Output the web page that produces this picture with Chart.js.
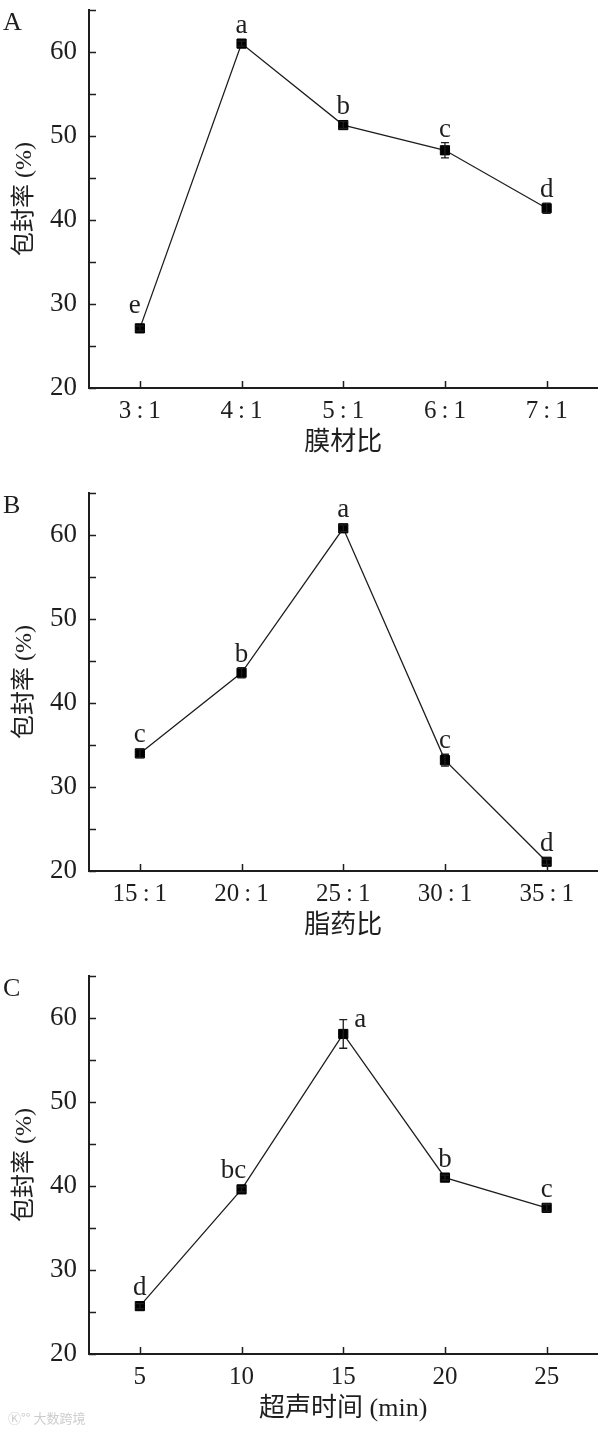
<!DOCTYPE html>
<html><head><meta charset="utf-8">
<script src="https://cdn.jsdelivr.net/npm/chart.js@4/dist/chart.umd.min.js"></script>
<style>
html,body{margin:0;padding:0;background:#fff;width:605px;height:1430px;overflow:hidden;}
.panel{position:absolute;left:0;width:605px;height:464px;}
#wm{position:absolute;left:8px;top:1408px;font:13px 'Noto Sans CJK SC',sans-serif;color:#cdcdcd;letter-spacing:0px;}
</style></head><body>
<div class="panel" style="top:0px"><canvas id="cA"></canvas></div>
<div class="panel" style="top:483px"><canvas id="cB"></canvas></div>
<div class="panel" style="top:966px"><canvas id="cC"></canvas></div>
<div id="wm">Ⓚ°° 大数跨境</div>
<script>
// ---- data ----
const catA = ['3:1', '4:1', '5:1', '6:1', '7:1'];
const valA = [27.1, 61.0, 51.3, 48.3, 41.4];
const errA = [0.3, 0.3, 0.4, 0.9, 0.6];
const letA = ['e', 'a', 'b', 'c', 'd'];

const catB = ['15:1', '20:1', '25:1', '30:1', '35:1'];
const valB = [34.0, 43.6, 60.8, 33.2, 21.1];
const errB = [0.5, 0.6, 0.4, 0.7, 0.3];
const letB = ['c', 'b', 'a', 'c', 'd'];

const catC = ['5', '10', '15', '20', '25'];
const valC = [25.7, 39.6, 58.1, 41.0, 37.4];
const errC = [0.3, 0.3, 1.7, 0.3, 0.4];
const letC = ['d', 'bc', 'a', 'b', 'c'];

const yTicksMin = 20, yTicksMax = 65, yStep = 5, yLabelEvery = 10;
const yTitle = '包封率 (%)';
const xTitles = ['膜材比', '脂药比', '超声时间 (min)'];
const panelLetters = ['A', 'B', 'C'];

// ---- style ----
const SERIF = "'Liberation Serif', 'Times New Roman', serif";
const MIX = "'Liberation Serif', 'Noto Sans CJK SC', serif";
const INK = '#1e1e1e';

const decoPlugin = {
  id: 'deco',
  afterDatasetsDraw(chart, args, opts) {
    const ctx = chart.ctx;
    const ys = chart.scales.y;
    const ds = chart.data.datasets[0];
    const meta = chart.getDatasetMeta(0);
    ctx.save();
    ctx.strokeStyle = INK;
    ctx.lineWidth = 1.3;
    ds.data.forEach((v, i) => {
      const px = meta.data[i].x;
      const e = ds.errors[i];
      const yt = ys.getPixelForValue(v + e), yb = ys.getPixelForValue(v - e);
      ctx.beginPath();
      ctx.moveTo(px, yt); ctx.lineTo(px, yb);
      ctx.moveTo(px - 4, yt); ctx.lineTo(px + 4, yt);
      ctx.moveTo(px - 4, yb); ctx.lineTo(px + 4, yb);
      ctx.stroke();
    });
    ctx.fillStyle = INK;
    ctx.font = '27px ' + SERIF;
    ds.data.forEach((v, i) => {
      const px = meta.data[i].x;
      const py = meta.data[i].y;
      const e = ds.errors[i];
      const yt = ys.getPixelForValue(v + e);
      ctx.textBaseline = 'alphabetic';
      if (opts.rightIdx === i) {
        ctx.textAlign = 'left';
        ctx.fillText(ds.letters[i], px + 11, yt + 7);
      } else {
        const sh = (opts.shift && opts.shift[i]) || [0, 0];
        ctx.textAlign = 'center';
        ctx.fillText(ds.letters[i], px + sh[0], Math.min(yt, py - 5) - 6 + sh[1]);
      }
    });
    ctx.restore();
  },
  afterDraw(chart, args, opts) {
    const ctx = chart.ctx;
    const xs = chart.scales.x, ys = chart.scales.y;
    const ca = chart.chartArea;
    ctx.save();
    ctx.strokeStyle = INK;
    ctx.lineWidth = 1.5;
    ctx.beginPath();
    ys.ticks.forEach(t => {
      const y = Math.round(ys.getPixelForValue(t.value)) + 0.5;
      ctx.moveTo(ca.left, y); ctx.lineTo(ca.left + 7, y);
    });
    xs.ticks.forEach((t, i) => {
      const x = Math.round(xs.getPixelForTick(i)) + 0.5;
      ctx.moveTo(x, ca.bottom); ctx.lineTo(x, ca.bottom - 7);
    });
    ctx.stroke();
    ctx.fillStyle = INK;
    ctx.font = '26px ' + SERIF;
    ctx.textAlign = 'left';
    ctx.textBaseline = 'alphabetic';
    ctx.fillText(opts.letter, 3, ca.top + 20);
    ctx.restore();
  }
};

function makeChart(id, cats, vals, errs, lets, xTitle, letter, extra) {
  return new Chart(document.getElementById(id), {
    type: 'line',
    data: {
      labels: cats,
      datasets: [{
        data: vals, errors: errs, letters: lets,
        borderColor: INK, borderWidth: 1.3, tension: 0, fill: false,
        pointStyle: 'rect', pointRadius: 6.5, pointBorderWidth: 1,
        pointBackgroundColor: '#000', pointBorderColor: '#000'
      }]
    },
    plugins: [decoPlugin],
    options: {
      responsive: true, maintainAspectRatio: false, animation: false,
      devicePixelRatio: 1,
      layout: { padding: { top: 10, left: 0, right: 7, bottom: 0 } },
      plugins: {
        legend: { display: false }, tooltip: { enabled: false },
        deco: Object.assign({ letter }, extra || {})
      },
      scales: {
        x: {
          type: 'category', offset: true,
          grid: { display: false, drawTicks: false },
          border: { display: true, color: INK, width: 2 },
          ticks: {
            color: INK, padding: 8, maxRotation: 0, autoSkip: false,
            font: { family: SERIF, size: 25 },
            callback: function (v) { return this.getLabelForValue(v).replace(':', '\u2009:\u2009'); }
          },
          title: { display: true, text: xTitle, color: INK, font: { family: MIX, size: 26 }, padding: { top: 0, bottom: 5 } },
          afterFit: s => { s.height = 76; s.paddingLeft = 0; s.paddingRight = 0; }
        },
        y: {
          min: yTicksMin, max: yTicksMax,
          grid: { display: false, drawTicks: false },
          border: { display: true, color: INK, width: 2 },
          ticks: {
            stepSize: yStep, color: INK, padding: 12,
            font: { family: SERIF, size: 27 },
            callback: v => (v % yLabelEvery === 0 ? v : '')
          },
          title: { display: true, text: yTitle, color: INK, font: { family: MIX, size: 24 }, padding: { top: 10, bottom: 0 } },
          afterFit: s => { s.width = 89; s.paddingTop = 0; s.paddingBottom = 0; }
        }
      }
    }
  });
}

makeChart('cA', catA, valA, errA, letA, xTitles[0], panelLetters[0], { shift: { 0: [-5, -4] } });
makeChart('cB', catB, valB, errB, letB, xTitles[1], panelLetters[1]);
makeChart('cC', catC, valC, errC, letC, xTitles[2], panelLetters[2], { rightIdx: 2, shift: { 1: [-8, 0] } });
</script>
</body></html>
